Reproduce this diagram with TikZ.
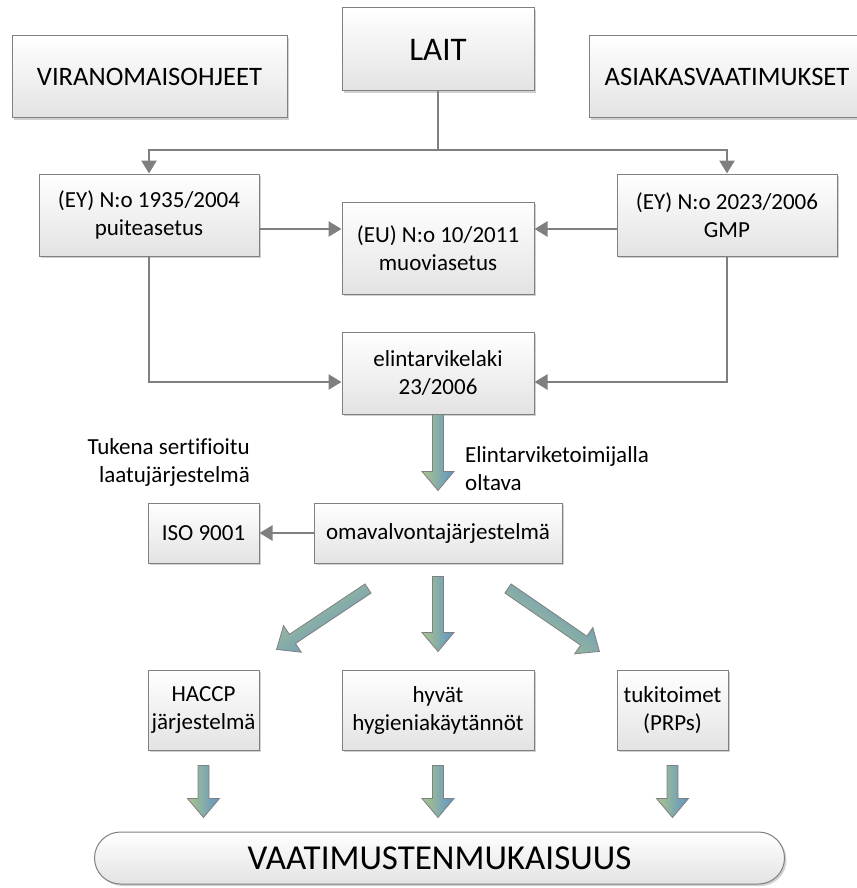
\documentclass[tikz,border=0pt]{standalone}
\usepackage{fontspec}
\setmainfont{Carlito}[Ligatures=NoCommon]
\usetikzlibrary{arrows.meta,calc,shadows}

\definecolor{boxline}{HTML}{808080}
\definecolor{connline}{HTML}{7F7F7F}
\definecolor{faGreen}{HTML}{ABC48A}
\definecolor{faMid}{HTML}{8FB2AE}
\definecolor{faBlue}{HTML}{5F94C8}

\tikzset{
  box/.style={draw=boxline, line width=1pt, top color=white, bottom color=black!11,
    drop shadow={shadow xshift=2pt, shadow yshift=-2pt, opacity=0.3, fill=black!60},
    align=center, inner sep=0pt, font=\fontsize{23}{28}\selectfont},
  bigbox/.style={box, font=\fontsize{26.6}{32}\selectfont},
  conn/.style={draw=connline, line width=2.6pt},
  arr/.style={-{Triangle[length=13pt,width=15pt]}},
  plain/.style={align=center, inner sep=0pt, font=\fontsize{23}{28}\selectfont},
  fatarrowstyle/.style={draw=boxline, line width=0.8pt, line join=miter,
    top color=faBlue, middle color=faMid, bottom color=faGreen}
}

% broad shaded arrow from one named coordinate to another;
% the gradient runs across the arrow, blue on its left flank
\newcommand\fatarrow[2]{%
  \path let \p1=(#1), \p2=(#2),
    \n1={atan2(\y2-\y1,\x2-\x1)}, \n2={veclen(\x2-\x1,\y2-\y1)} in
    \pgfextra{\xdef\faang{\n1}\xdef\falen{\n2}};
  \begin{scope}[shift={(#1)}, x=1pt, y=1pt, rotate=\faang]
    \shade[fatarrowstyle, shading angle=\faang] (0,-5.5) -- (\falen-19,-5.5) -- (\falen-19,-16)
      -- (\falen,0) -- (\falen-19,16) -- (\falen-19,5.5) -- (0,5.5) -- cycle;
  \end{scope}}

\begin{document}
\begin{tikzpicture}[x=1pt,y=-1pt]
\useasboundingbox (0,0) rectangle (856,888);

% top row
\node[bigbox, minimum width=275pt, minimum height=82pt] (viran) at (149.5,77) {VIRANOMAISOHJEET};
\node[box, font=\fontsize{33}{38}\selectfont, minimum width=192pt, minimum height=83pt] (lait) at (438,49.5) {LAIT};
\node[bigbox, minimum width=276pt, minimum height=82pt] (asiak) at (727,77) {ASIAKASVAATIMUKSET};

% regulations
\node[box, minimum width=220pt, minimum height=82pt] (puite) at (149,215) {(EY) N:o 1935/2004\\puiteasetus};
\node[box, minimum width=192pt, minimum height=92pt] (muovi) at (438,248) {(EU) N:o 10/2011\\muoviasetus};
\node[box, minimum width=220pt, minimum height=82pt] (gmp) at (727,215) {(EY) N:o 2023/2006\\GMP};
\node[box, minimum width=192pt, minimum height=82pt] (elin) at (438,373) {elintarvikelaki\\23/2006};

% self-monitoring
\node[box, minimum width=248pt, minimum height=60pt] (omav) at (438,533) {omavalvontajärjestelmä};
\node[box, minimum width=111pt, minimum height=60pt] (iso) at (203.5,533) {ISO 9001};

\node[plain, anchor=east, align=right] (tukena) at (250,462) {Tukena sertifioitu\\laatujärjestelmä};
\node[plain, anchor=west, align=left] (oltava) at (465,469) {Elintarviketoimijalla\\oltava};

% components
\node[box, minimum width=111pt, minimum height=80pt] (haccp) at (203.5,710) {HACCP\\järjestelmä};
\node[box, minimum width=192pt, minimum height=80pt] (hyvat) at (438,710) {hyvät\\hygieniakäytännöt};
\node[box, minimum width=111pt, minimum height=80pt] (tuki) at (672.5,710) {tukitoimet\\(PRPs)};

\node[box, rounded corners=26pt, font=\fontsize{35}{40}\selectfont,
      minimum width=690pt, minimum height=52pt] (vaat) at (439.5,858) {VAATIMUSTENMUKAISUUS};

% thin connectors
\coordinate (split) at (438,150);
\draw[conn] (lait.south) -- (split);
\draw[conn, arr] (split) -| (puite.north);
\draw[conn, arr] (split) -| (gmp.north);
\draw[conn, arr] (puite.east |- 0,229) -- (muovi.west |- 0,229);
\draw[conn, arr] (gmp.west |- 0,229) -- (muovi.east |- 0,229);
\draw[conn, arr] (puite.south) |- (elin.west |- 0,382);
\draw[conn, arr] (gmp.south) |- (elin.east |- 0,382);
\draw[conn, arr] (omav.west) -- (iso.east);

% broad arrows
\coordinate (f1a) at (elin.south);
\coordinate (f1b) at ($(omav.north)+(0,-12)$);
\coordinate (f2a) at ($(omav.south)+(0,13)$);
\coordinate (f2b) at ($(hyvat.north)+(0,-18)$);
\coordinate (f3a) at ($(omav.south)+(-70,25)$);
\coordinate (f3b) at ($(haccp.north)+(73,-20)$);
\coordinate (f4a) at ($(omav.south)+(70,25)$);
\coordinate (f4b) at ($(tuki.north)+(-73,-18)$);
\coordinate (f5a) at ($(haccp.south)+(0,15)$);
\coordinate (f5b) at ($(vaat.north -| haccp.south)+(0,-14)$);
\coordinate (f6a) at ($(hyvat.south)+(0,15)$);
\coordinate (f6b) at ($(vaat.north -| hyvat.south)+(0,-14)$);
\coordinate (f7a) at ($(tuki.south)+(0,15)$);
\coordinate (f7b) at ($(vaat.north -| tuki.south)+(0,-14)$);

\fatarrow{f1a}{f1b}
\fatarrow{f2a}{f2b}
\fatarrow{f3a}{f3b}
\fatarrow{f4a}{f4b}
\fatarrow{f5a}{f5b}
\fatarrow{f6a}{f6b}
\fatarrow{f7a}{f7b}
\end{tikzpicture}
\end{document}
